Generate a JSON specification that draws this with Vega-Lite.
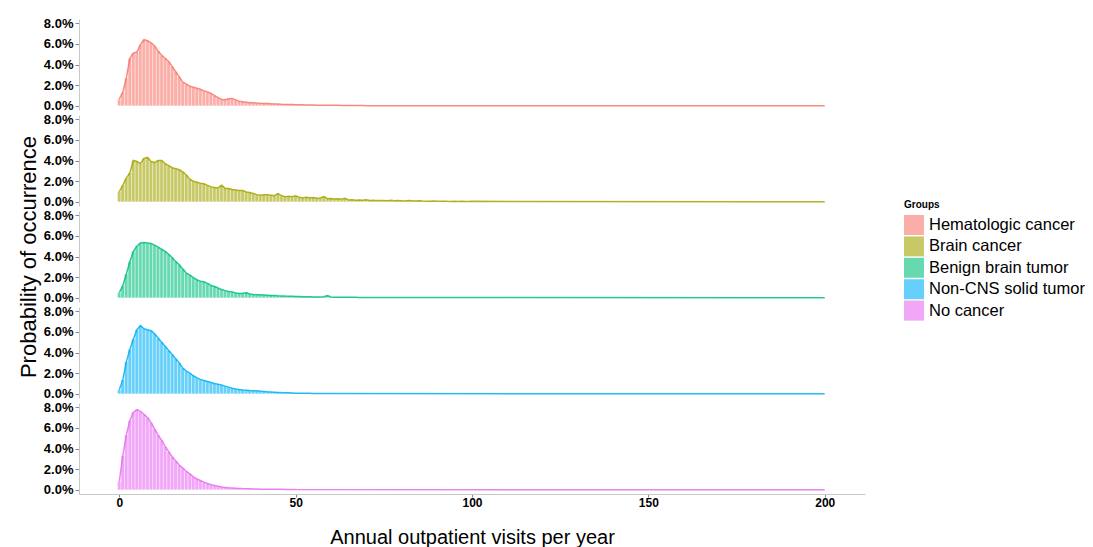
{
"$schema":"https://vega.github.io/schema/vega-lite/v6.json",
"background":"white",
"padding":{"left":17,"top":17,"right":5,"bottom":5},
"datasets":{
"groups":[{"g":"H","Group":"Hematologic cancer"},{"g":"B","Group":"Brain cancer"},{"g":"T","Group":"Benign brain tumor"},{"g":"S","Group":"Non-CNS solid tumor"},{"g":"N","Group":"No cancer"}],
"v":[
{"g":"H","x":0,"y":0.65},{"g":"H","x":1,"y":1.3},{"g":"H","x":2,"y":2.7},{"g":"H","x":3,"y":4.6},{"g":"H","x":4,"y":5.1},{"g":"H","x":5,"y":5.2},{"g":"H","x":6,"y":5.9},{"g":"H","x":7,"y":6.4},{"g":"H","x":8,"y":6.3},{"g":"H","x":9,"y":6.1},{"g":"H","x":10,"y":5.8},{"g":"H","x":11,"y":5.3},{"g":"H","x":12,"y":4.9},{"g":"H","x":13,"y":4.6},{"g":"H","x":14,"y":4.3},{"g":"H","x":15,"y":3.8},{"g":"H","x":16,"y":3.3},{"g":"H","x":17,"y":2.8},{"g":"H","x":18,"y":2.3},{"g":"H","x":19,"y":2.1},{"g":"H","x":20,"y":1.9},{"g":"H","x":21,"y":1.8},{"g":"H","x":22,"y":1.7},{"g":"H","x":23,"y":1.6},{"g":"H","x":24,"y":1.45},{"g":"H","x":25,"y":1.35},{"g":"H","x":26,"y":1.2},{"g":"H","x":27,"y":1.0},{"g":"H","x":28,"y":0.8},{"g":"H","x":29,"y":0.62},{"g":"H","x":30,"y":0.6},{"g":"H","x":31,"y":0.68},{"g":"H","x":32,"y":0.72},{"g":"H","x":33,"y":0.58},{"g":"H","x":34,"y":0.45},{"g":"H","x":35,"y":0.4},{"g":"H","x":36,"y":0.35},{"g":"H","x":37,"y":0.3},{"g":"H","x":38,"y":0.3},{"g":"H","x":39,"y":0.27},{"g":"H","x":40,"y":0.25},{"g":"H","x":41,"y":0.24},{"g":"H","x":42,"y":0.22},{"g":"H","x":43,"y":0.2},{"g":"H","x":44,"y":0.18},{"g":"H","x":45,"y":0.17},{"g":"H","x":46,"y":0.15},{"g":"H","x":47,"y":0.14},{"g":"H","x":48,"y":0.13},{"g":"H","x":49,"y":0.12},{"g":"H","x":50,"y":0.11},{"g":"H","x":51,"y":0.1},{"g":"H","x":52,"y":0.1},{"g":"H","x":53,"y":0.09},{"g":"H","x":54,"y":0.08},{"g":"H","x":55,"y":0.08},{"g":"H","x":56,"y":0.07},{"g":"H","x":57,"y":0.07},{"g":"H","x":58,"y":0.06},{"g":"H","x":59,"y":0.06},{"g":"H","x":60,"y":0.05},{"g":"H","x":61,"y":0.05},{"g":"H","x":62,"y":0.05},{"g":"H","x":63,"y":0.04},{"g":"H","x":64,"y":0.04},{"g":"H","x":65,"y":0.04},{"g":"H","x":66,"y":0.03},{"g":"H","x":67,"y":0.03},{"g":"H","x":68,"y":0.03},{"g":"H","x":69,"y":0.03},{"g":"H","x":70,"y":0.02},{"g":"H","x":200,"y":0},
{"g":"B","x":0,"y":1.0},{"g":"B","x":1,"y":1.6},{"g":"B","x":2,"y":2.3},{"g":"B","x":3,"y":2.8},{"g":"B","x":4,"y":4.0},{"g":"B","x":5,"y":3.9},{"g":"B","x":6,"y":3.7},{"g":"B","x":7,"y":4.2},{"g":"B","x":8,"y":4.3},{"g":"B","x":9,"y":3.9},{"g":"B","x":10,"y":3.8},{"g":"B","x":11,"y":4.0},{"g":"B","x":12,"y":4.0},{"g":"B","x":13,"y":3.7},{"g":"B","x":14,"y":3.5},{"g":"B","x":15,"y":3.3},{"g":"B","x":16,"y":3.2},{"g":"B","x":17,"y":3.1},{"g":"B","x":18,"y":2.9},{"g":"B","x":19,"y":2.6},{"g":"B","x":20,"y":2.2},{"g":"B","x":21,"y":2.0},{"g":"B","x":22,"y":1.9},{"g":"B","x":23,"y":1.8},{"g":"B","x":24,"y":1.75},{"g":"B","x":25,"y":1.6},{"g":"B","x":26,"y":1.45},{"g":"B","x":27,"y":1.4},{"g":"B","x":28,"y":1.35},{"g":"B","x":29,"y":1.6},{"g":"B","x":30,"y":1.3},{"g":"B","x":31,"y":1.3},{"g":"B","x":32,"y":1.2},{"g":"B","x":33,"y":1.15},{"g":"B","x":34,"y":1.1},{"g":"B","x":35,"y":1.1},{"g":"B","x":36,"y":0.95},{"g":"B","x":37,"y":0.9},{"g":"B","x":38,"y":0.8},{"g":"B","x":39,"y":0.7},{"g":"B","x":40,"y":0.65},{"g":"B","x":41,"y":0.7},{"g":"B","x":42,"y":0.7},{"g":"B","x":43,"y":0.65},{"g":"B","x":44,"y":0.6},{"g":"B","x":45,"y":0.8},{"g":"B","x":46,"y":0.6},{"g":"B","x":47,"y":0.5},{"g":"B","x":48,"y":0.55},{"g":"B","x":49,"y":0.5},{"g":"B","x":50,"y":0.58},{"g":"B","x":51,"y":0.45},{"g":"B","x":52,"y":0.38},{"g":"B","x":53,"y":0.45},{"g":"B","x":54,"y":0.4},{"g":"B","x":55,"y":0.42},{"g":"B","x":56,"y":0.35},{"g":"B","x":57,"y":0.38},{"g":"B","x":58,"y":0.5},{"g":"B","x":59,"y":0.3},{"g":"B","x":60,"y":0.32},{"g":"B","x":61,"y":0.28},{"g":"B","x":62,"y":0.3},{"g":"B","x":63,"y":0.25},{"g":"B","x":64,"y":0.35},{"g":"B","x":65,"y":0.18},{"g":"B","x":66,"y":0.2},{"g":"B","x":67,"y":0.15},{"g":"B","x":68,"y":0.18},{"g":"B","x":69,"y":0.15},{"g":"B","x":70,"y":0.2},{"g":"B","x":71,"y":0.14},{"g":"B","x":72,"y":0.15},{"g":"B","x":73,"y":0.12},{"g":"B","x":74,"y":0.14},{"g":"B","x":75,"y":0.12},{"g":"B","x":76,"y":0.1},{"g":"B","x":77,"y":0.15},{"g":"B","x":78,"y":0.1},{"g":"B","x":79,"y":0.12},{"g":"B","x":80,"y":0.1},{"g":"B","x":81,"y":0.08},{"g":"B","x":82,"y":0.12},{"g":"B","x":83,"y":0.1},{"g":"B","x":84,"y":0.08},{"g":"B","x":85,"y":0.1},{"g":"B","x":86,"y":0.08},{"g":"B","x":87,"y":0.07},{"g":"B","x":88,"y":0.06},{"g":"B","x":89,"y":0.08},{"g":"B","x":90,"y":0.06},{"g":"B","x":91,"y":0.05},{"g":"B","x":92,"y":0.07},{"g":"B","x":93,"y":0.05},{"g":"B","x":94,"y":0.04},{"g":"B","x":95,"y":0.06},{"g":"B","x":96,"y":0.04},{"g":"B","x":97,"y":0.05},{"g":"B","x":98,"y":0.04},{"g":"B","x":99,"y":0.03},{"g":"B","x":100,"y":0.05},{"g":"B","x":200,"y":0},
{"g":"T","x":0,"y":0.5},{"g":"T","x":1,"y":1.15},{"g":"T","x":2,"y":2.3},{"g":"T","x":3,"y":3.5},{"g":"T","x":4,"y":4.5},{"g":"T","x":5,"y":5.0},{"g":"T","x":6,"y":5.3},{"g":"T","x":7,"y":5.35},{"g":"T","x":8,"y":5.3},{"g":"T","x":9,"y":5.25},{"g":"T","x":10,"y":5.1},{"g":"T","x":11,"y":4.9},{"g":"T","x":12,"y":4.7},{"g":"T","x":13,"y":4.5},{"g":"T","x":14,"y":4.2},{"g":"T","x":15,"y":3.9},{"g":"T","x":16,"y":3.5},{"g":"T","x":17,"y":3.2},{"g":"T","x":18,"y":2.8},{"g":"T","x":19,"y":2.4},{"g":"T","x":20,"y":2.2},{"g":"T","x":21,"y":1.95},{"g":"T","x":22,"y":1.75},{"g":"T","x":23,"y":1.6},{"g":"T","x":24,"y":1.55},{"g":"T","x":25,"y":1.4},{"g":"T","x":26,"y":1.2},{"g":"T","x":27,"y":1.1},{"g":"T","x":28,"y":0.95},{"g":"T","x":29,"y":0.8},{"g":"T","x":30,"y":0.7},{"g":"T","x":31,"y":0.62},{"g":"T","x":32,"y":0.58},{"g":"T","x":33,"y":0.48},{"g":"T","x":34,"y":0.42},{"g":"T","x":35,"y":0.45},{"g":"T","x":36,"y":0.5},{"g":"T","x":37,"y":0.38},{"g":"T","x":38,"y":0.33},{"g":"T","x":39,"y":0.3},{"g":"T","x":40,"y":0.3},{"g":"T","x":41,"y":0.28},{"g":"T","x":42,"y":0.26},{"g":"T","x":43,"y":0.24},{"g":"T","x":44,"y":0.22},{"g":"T","x":45,"y":0.2},{"g":"T","x":46,"y":0.19},{"g":"T","x":47,"y":0.17},{"g":"T","x":48,"y":0.16},{"g":"T","x":49,"y":0.15},{"g":"T","x":50,"y":0.13},{"g":"T","x":51,"y":0.12},{"g":"T","x":52,"y":0.11},{"g":"T","x":53,"y":0.1},{"g":"T","x":54,"y":0.1},{"g":"T","x":55,"y":0.09},{"g":"T","x":56,"y":0.09},{"g":"T","x":57,"y":0.08},{"g":"T","x":58,"y":0.1},{"g":"T","x":59,"y":0.22},{"g":"T","x":60,"y":0.08},{"g":"T","x":61,"y":0.07},{"g":"T","x":62,"y":0.07},{"g":"T","x":63,"y":0.06},{"g":"T","x":64,"y":0.06},{"g":"T","x":65,"y":0.05},{"g":"T","x":66,"y":0.05},{"g":"T","x":67,"y":0.05},{"g":"T","x":68,"y":0.04},{"g":"T","x":69,"y":0.04},{"g":"T","x":70,"y":0.04},{"g":"T","x":200,"y":0},
{"g":"S","x":0,"y":0.4},{"g":"S","x":1,"y":1.35},{"g":"S","x":2,"y":3.1},{"g":"S","x":3,"y":4.3},{"g":"S","x":4,"y":5.3},{"g":"S","x":5,"y":6.2},{"g":"S","x":6,"y":6.6},{"g":"S","x":7,"y":6.3},{"g":"S","x":8,"y":6.2},{"g":"S","x":9,"y":6.1},{"g":"S","x":10,"y":5.8},{"g":"S","x":11,"y":5.4},{"g":"S","x":12,"y":5.0},{"g":"S","x":13,"y":4.6},{"g":"S","x":14,"y":4.2},{"g":"S","x":15,"y":3.8},{"g":"S","x":16,"y":3.4},{"g":"S","x":17,"y":3.0},{"g":"S","x":18,"y":2.5},{"g":"S","x":19,"y":2.2},{"g":"S","x":20,"y":2.0},{"g":"S","x":21,"y":1.75},{"g":"S","x":22,"y":1.55},{"g":"S","x":23,"y":1.4},{"g":"S","x":24,"y":1.3},{"g":"S","x":25,"y":1.2},{"g":"S","x":26,"y":1.1},{"g":"S","x":27,"y":1.0},{"g":"S","x":28,"y":0.92},{"g":"S","x":29,"y":0.85},{"g":"S","x":30,"y":0.75},{"g":"S","x":31,"y":0.65},{"g":"S","x":32,"y":0.55},{"g":"S","x":33,"y":0.48},{"g":"S","x":34,"y":0.42},{"g":"S","x":35,"y":0.38},{"g":"S","x":36,"y":0.35},{"g":"S","x":37,"y":0.32},{"g":"S","x":38,"y":0.3},{"g":"S","x":39,"y":0.29},{"g":"S","x":40,"y":0.26},{"g":"S","x":41,"y":0.23},{"g":"S","x":42,"y":0.2},{"g":"S","x":43,"y":0.18},{"g":"S","x":44,"y":0.16},{"g":"S","x":45,"y":0.14},{"g":"S","x":46,"y":0.12},{"g":"S","x":47,"y":0.11},{"g":"S","x":48,"y":0.1},{"g":"S","x":49,"y":0.09},{"g":"S","x":50,"y":0.07},{"g":"S","x":51,"y":0.06},{"g":"S","x":52,"y":0.06},{"g":"S","x":53,"y":0.05},{"g":"S","x":54,"y":0.05},{"g":"S","x":55,"y":0.04},{"g":"S","x":56,"y":0.04},{"g":"S","x":57,"y":0.04},{"g":"S","x":58,"y":0.03},{"g":"S","x":59,"y":0.03},{"g":"S","x":60,"y":0.03},{"g":"S","x":200,"y":0},
{"g":"N","x":0,"y":0.8},{"g":"N","x":1,"y":3.3},{"g":"N","x":2,"y":5.3},{"g":"N","x":3,"y":6.7},{"g":"N","x":4,"y":7.5},{"g":"N","x":5,"y":7.75},{"g":"N","x":6,"y":7.6},{"g":"N","x":7,"y":7.3},{"g":"N","x":8,"y":7.0},{"g":"N","x":9,"y":6.5},{"g":"N","x":10,"y":5.9},{"g":"N","x":11,"y":5.3},{"g":"N","x":12,"y":4.8},{"g":"N","x":13,"y":4.2},{"g":"N","x":14,"y":3.7},{"g":"N","x":15,"y":3.2},{"g":"N","x":16,"y":2.8},{"g":"N","x":17,"y":2.4},{"g":"N","x":18,"y":2.1},{"g":"N","x":19,"y":1.8},{"g":"N","x":20,"y":1.55},{"g":"N","x":21,"y":1.25},{"g":"N","x":22,"y":1.05},{"g":"N","x":23,"y":0.9},{"g":"N","x":24,"y":0.75},{"g":"N","x":25,"y":0.62},{"g":"N","x":26,"y":0.5},{"g":"N","x":27,"y":0.42},{"g":"N","x":28,"y":0.35},{"g":"N","x":29,"y":0.28},{"g":"N","x":30,"y":0.24},{"g":"N","x":31,"y":0.2},{"g":"N","x":32,"y":0.18},{"g":"N","x":33,"y":0.16},{"g":"N","x":34,"y":0.14},{"g":"N","x":35,"y":0.12},{"g":"N","x":36,"y":0.11},{"g":"N","x":37,"y":0.1},{"g":"N","x":38,"y":0.09},{"g":"N","x":39,"y":0.08},{"g":"N","x":40,"y":0.07},{"g":"N","x":41,"y":0.07},{"g":"N","x":42,"y":0.06},{"g":"N","x":43,"y":0.06},{"g":"N","x":44,"y":0.06},{"g":"N","x":45,"y":0.05},{"g":"N","x":46,"y":0.05},{"g":"N","x":47,"y":0.04},{"g":"N","x":48,"y":0.04},{"g":"N","x":49,"y":0.04},{"g":"N","x":50,"y":0.03},{"g":"N","x":200,"y":0}
]},
"data":{"name":"v"},
"transform":[{"lookup":"g","from":{"data":{"name":"groups"},"key":"g","fields":["Group"]}}],
"facet":{"row":{"field":"Group","type":"nominal","title":"Probability of occurrence","sort":["Hematologic cancer","Brain cancer","Benign brain tumor","Non-CNS solid tumor","No cancer"],"header":{"labels":false,"titleFontSize":22,"titleFontWeight":"normal","titleFont":"Liberation Sans","titleColor":"black","titlePadding":-8}}},
"spacing":{"row":5},
"spec":{
"width":786,"height":91,
"encoding":{
"x":{"field":"x","type":"quantitative","scale":{"domain":[-10,210],"nice":false,"zero":false},"axis":{"values":[0,50,100,150,200],"format":"d","title":"Annual outpatient visits per year"}},
"y":{"field":"y","type":"quantitative","scale":{"domain":[-0.4,8.4],"nice":false,"zero":false},"axis":{"values":[0,2,4,6,8],"labelExpr":"format(datum.value,'.1f')+'%'","title":null,"labelFontSize":13}},
"color":{"field":"Group","type":"nominal","scale":{"domain":["Hematologic cancer","Brain cancer","Benign brain tumor","Non-CNS solid tumor","No cancer"],"range":["#F8766D","#A3A500","#00BF7D","#00B0F6","#E76BF3"]},"legend":{"title":"Groups","symbolType":"square","symbolSize":400,"symbolOpacity":0.6,"symbolStrokeWidth":0,"orient":"none","legendX":825,"legendY":181,"labelLimit":400}}
},
"layer":[
{"mark":{"type":"bar","size":3.57,"fillOpacity":0.6,"stroke":"white","strokeWidth":0.4},"encoding":{"y2":{"datum":0}}},
{"mark":{"type":"line","strokeWidth":1.5,"opacity":0.85}}
]
},
"config":{
"font":"Liberation Sans",
"view":{"stroke":null},
"axis":{"grid":false,"labelFontWeight":"bold","labelFontSize":12,"labelColor":"black","domainColor":"#c8c8c8","tickColor":"#888","tickSize":4,"labelPadding":2,"titleFontSize":20,"titleFontWeight":"normal","titleColor":"black"},
"axisX":{"titlePadding":19,"labelPadding":0,"tickSize":3},
"legend":{"titleFontSize":10,"titleFontWeight":"bold","titleColor":"black","labelFontSize":16.5,"labelColor":"black","rowPadding":1.4,"titlePadding":5,"labelOffset":5}
}
}
